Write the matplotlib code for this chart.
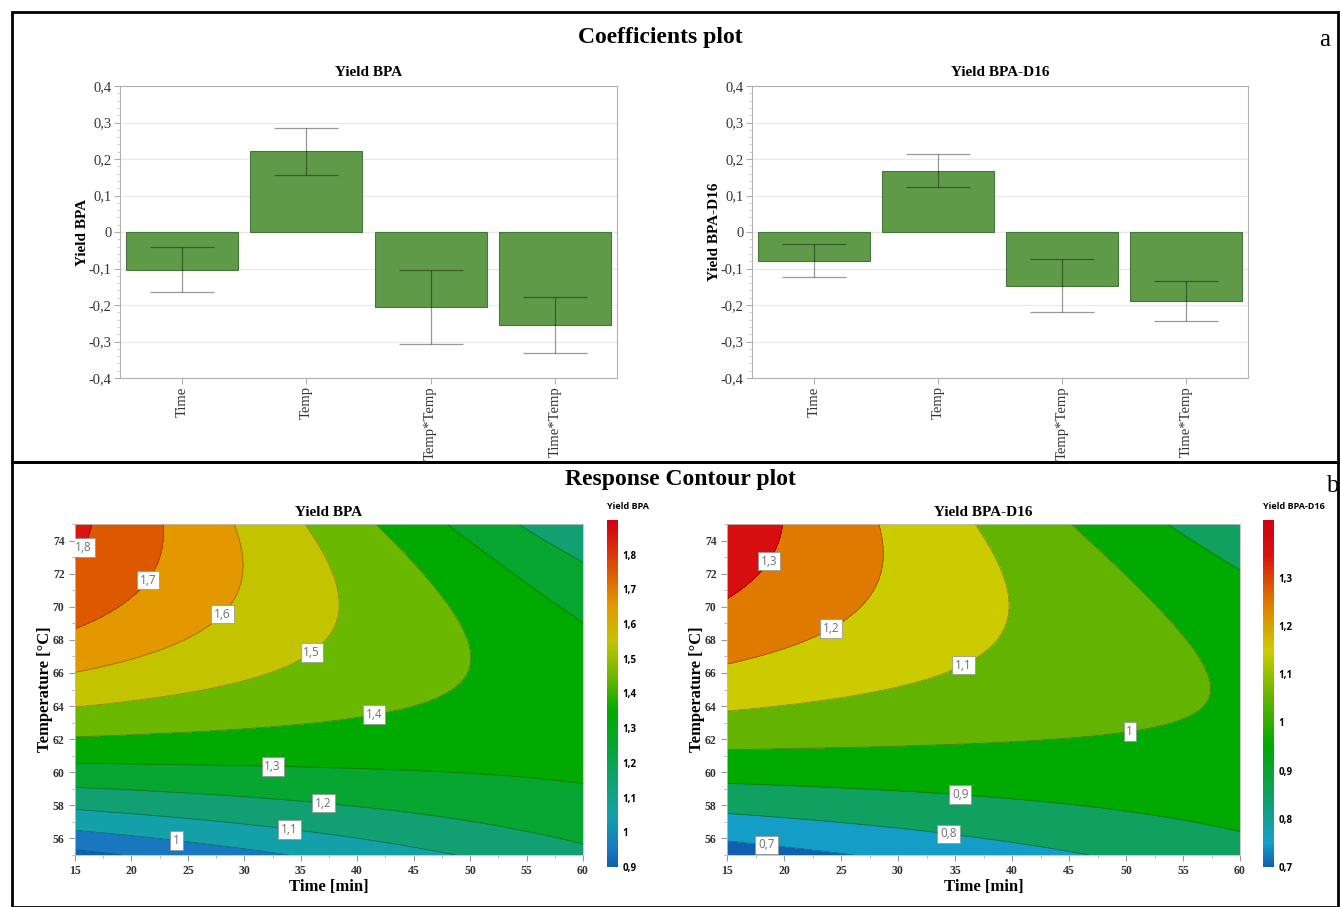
import numpy as np
import matplotlib
matplotlib.use("Agg")
import matplotlib.pyplot as plt
from matplotlib.colors import LinearSegmentedColormap, Normalize
from matplotlib.cm import ScalarMappable
from matplotlib.patches import Rectangle
from matplotlib.ticker import FuncFormatter, MultipleLocator

plt.rcParams['font.family'] = ['Liberation Serif', 'DejaVu Serif']

# coefficient plot data (scaled & centred coefficients)
terms = ["Time", "Temp", "Temp*Temp", "Time*Temp"]
coef_bpa = [-0.103, 0.221, -0.205, -0.255]
err_bpa = [0.062, 0.064, 0.102, 0.077]
coef_d16 = [-0.079, 0.168, -0.147, -0.188]
err_d16 = [0.045, 0.046, 0.072, 0.055]
coef_ticks = [-0.4, -0.3, -0.2, -0.1, 0, 0.1, 0.2, 0.3, 0.4]

# model constants
intercept_bpa = 1.45
intercept_d16 = 1.07
time_range = [15, 60]
temp_range = [55, 75]
time_ticks = [15, 20, 25, 30, 35, 40, 45, 50, 55, 60]
temp_ticks = [56, 58, 60, 62, 64, 66, 68, 70, 72, 74]

levels_bpa = [0.8, 0.9, 1.0, 1.1, 1.2, 1.3, 1.4, 1.5, 1.6, 1.7, 1.8, 1.9]
levels_d16 = [0.6, 0.7, 0.8, 0.9, 1.0, 1.1, 1.2, 1.3, 1.4]
cbar_ticks_bpa = [0.9, 1.0, 1.1, 1.2, 1.3, 1.4, 1.5, 1.6, 1.7, 1.8]
cbar_ticks_d16 = [0.7, 0.8, 0.9, 1.0, 1.1, 1.2, 1.3]
cbar_range_bpa = [0.9, 1.9]
cbar_range_d16 = [0.7, 1.42]

# colour anchors (value, colour)
anchors_bpa = [(0.9, "#1060b0"), (0.95, "#1a78c0"), (1.05, "#14a0a8"), (1.15, "#12a070"),
               (1.25, "#06a630"), (1.35, "#00aa00"), (1.45, "#6cb800"), (1.55, "#c3c300"),
               (1.65, "#e39a00"), (1.75, "#dd5a00"), (1.85, "#d81a10"), (1.9, "#d00010")]
anchors_d16 = [(0.7, "#1060b0"), (0.75, "#14a0c8"), (0.85, "#10a060"), (0.95, "#00aa00"),
               (1.05, "#62b400"), (1.15, "#cccc00"), (1.25, "#e07a00"), (1.35, "#d81010"),
               (1.42, "#d00010")]

label_pos_bpa = [(16, 73.5), (21.5, 71.6), (28, 69.6), (36, 67.2), (41.5, 63.5),
                 (32.5, 60.2), (37, 58.1), (34, 56.5), (24, 55.8)]
label_pos_d16 = [(17.5, 73.3), (23.5, 69.5), (35, 67.5), (50, 64.0),
                 (35.5, 59.1), (34.5, 56.7), (18.5, 55.8)]


def comma(v, pos=None):
    v = round(v, 3)
    if v == 0:
        return "0"
    return f"{v:g}".replace(".", ",")


def make_cmap(anchors, vmin, vmax):
    pts = [((v - vmin) / (vmax - vmin), c) for v, c in anchors]
    return LinearSegmentedColormap.from_list("resp", pts)


def coef_plot(ax, vals, errs, title):
    x = np.arange(len(terms))
    ax.bar(x, vals, width=0.9, color="#5e9a48", edgecolor="#46763a", linewidth=0.8, zorder=2)
    ax.errorbar(x, vals, yerr=errs, fmt="none", ecolor=(0, 0, 0, 0.4),
                elinewidth=0.9, capsize=23, capthick=0.9, zorder=3)
    ax.set_xlim(-0.5, len(terms) - 0.5)
    ax.set_ylim(-0.4, 0.4)
    ax.set_yticks(coef_ticks)
    ax.yaxis.set_minor_locator(MultipleLocator(0.02))
    ax.yaxis.set_major_formatter(FuncFormatter(comma))
    ax.set_xticks(x)
    ax.set_xticklabels(terms, rotation=90, fontsize=10.5)
    ax.grid(axis="y", color="#e8e8e8", lw=0.8, zorder=0)
    ax.axhline(0, color="#b0b0b0", lw=0.8, zorder=1)
    for s in ax.spines.values():
        s.set_color("#b0b0b0")
    ax.tick_params(axis="y", labelsize=10.5, color="#b0b0b0", labelcolor="#333333", length=4, pad=2)
    ax.tick_params(axis="y", which="minor", color="#c8c8c8", length=2)
    ax.tick_params(axis="x", color="#b0b0b0", labelcolor="#333333", length=4, pad=2)
    ax.set_title(title, fontsize=11, fontweight="bold", pad=7)
    ax.set_ylabel(title, fontsize=11, fontweight="bold", labelpad=0)


def contour_plot(ax, cax, coefs, b0, levels, anchors, crange, cticks, label_pos, title):
    t = np.linspace(time_range[0], time_range[1], 300)
    T = np.linspace(temp_range[0], temp_range[1], 300)
    tt, TT = np.meshgrid(t, T)
    x1 = (tt - 37.5) / 22.5
    x2 = (TT - 65.0) / 10.0
    z = b0 + coefs[0] * x1 + coefs[1] * x2 + coefs[2] * x2 ** 2 + coefs[3] * x1 * x2

    cmap = make_cmap(anchors, crange[0], crange[1])
    norm = Normalize(vmin=crange[0], vmax=crange[1])
    ax.contourf(tt, TT, z, levels=levels, cmap=cmap, norm=norm)
    cs = ax.contour(tt, TT, z, levels=levels, colors=[(0, 0, 0, 0.3)], linewidths=0.6)
    texts = ax.clabel(cs, fmt=comma, fontsize=8.5, inline=False, manual=label_pos,
                      colors="#707070")
    for tx in texts:
        tx.set_rotation(0)
        tx.set_family("Open Sans")
        tx.set_bbox(dict(facecolor="white", edgecolor="#909090", lw=0.5, pad=2))

    ax.set_xlim(time_range)
    ax.set_ylim(temp_range)
    ax.set_xticks(time_ticks)
    ax.set_yticks(temp_ticks)
    ax.xaxis.set_minor_locator(MultipleLocator(2.5))
    ax.yaxis.set_minor_locator(MultipleLocator(1))
    ax.tick_params(labelsize=8.5, color="#999999", labelcolor="#333333", length=4)
    ax.tick_params(which="minor", color="#aaaaaa", length=2)
    for lab in ax.get_xticklabels() + ax.get_yticklabels():
        lab.set_fontweight("bold")
    for s in ax.spines.values():
        s.set_color("#c0c0c0")
        s.set_linewidth(0.6)
    ax.set_xlabel("Time [min]", fontsize=12, fontweight="bold", labelpad=1)
    ax.set_ylabel("Temperature [°C]", fontsize=12, fontweight="bold", labelpad=0)
    ax.set_title(title, fontsize=11, fontweight="bold", pad=6)

    sm = ScalarMappable(norm=norm, cmap=cmap)
    cb = plt.colorbar(sm, cax=cax, ticks=cticks)
    cb.outline.set_visible(False)
    cb.ax.yaxis.set_major_formatter(FuncFormatter(comma))
    cb.ax.tick_params(length=0, labelsize=7, pad=3)
    for lab in cb.ax.get_yticklabels():
        lab.set_family("Open Sans")
        lab.set_fontweight("bold")
    cax.text(0, 1.025, title, transform=cax.transAxes, fontsize=6.5, fontweight="bold",
             family="Open Sans", ha="left", va="bottom")


W, H = 1340, 907
fig = plt.figure(figsize=(W / 100, H / 100), dpi=100)

ax_b1 = fig.add_axes([120 / W, 1 - 378 / H, 497 / W, 292 / H])
ax_b2 = fig.add_axes([752 / W, 1 - 378 / H, 496 / W, 292 / H])
ax_c1 = fig.add_axes([75 / W, 1 - 855 / H, 508 / W, 331 / H])
ax_c2 = fig.add_axes([727 / W, 1 - 855 / H, 513 / W, 331 / H])
cax1 = fig.add_axes([607 / W, 1 - 867 / H, 11 / W, 347 / H])
cax2 = fig.add_axes([1263 / W, 1 - 867 / H, 11 / W, 347 / H])

coef_plot(ax_b1, coef_bpa, err_bpa, "Yield BPA")
coef_plot(ax_b2, coef_d16, err_d16, "Yield BPA-D16")

contour_plot(ax_c1, cax1, coef_bpa, intercept_bpa, levels_bpa, anchors_bpa,
             cbar_range_bpa, cbar_ticks_bpa, label_pos_bpa, "Yield BPA")
contour_plot(ax_c2, cax2, coef_d16, intercept_d16, levels_d16, anchors_d16,
             cbar_range_d16, cbar_ticks_d16, label_pos_d16, "Yield BPA-D16")

# panel frames
fig.patches.append(Rectangle((12 / W, 1 - 462 / H), 1326 / W, 450 / H, transform=fig.transFigure,
                             fill=False, lw=2, edgecolor="black"))
fig.patches.append(Rectangle((12 / W, 0), 1326 / W, 1 - 462 / H, transform=fig.transFigure,
                             fill=False, lw=2, edgecolor="black"))

fig.text(660 / W, 1 - 38 / H, "Coefficients plot", fontsize=17, fontweight="bold",
         ha="center", va="center")
fig.text(1325 / W, 1 - 40 / H, "a", fontsize=18, ha="center", va="center")
fig.text(680 / W, 1 - 479 / H, "Response Contour plot", fontsize=17, fontweight="bold",
         ha="center", va="center")
fig.text(1332 / W, 1 - 486 / H, "b", fontsize=18, ha="center", va="center")

fig.savefig("out.png", dpi=100)
